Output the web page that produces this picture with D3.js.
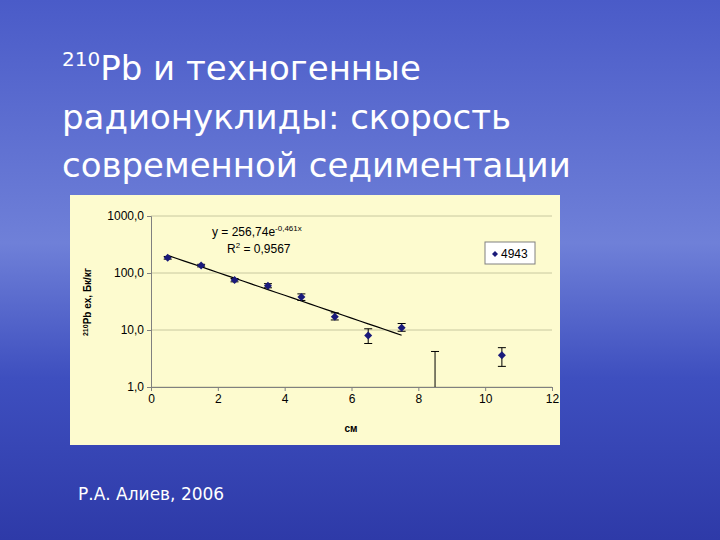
<!DOCTYPE html>
<html><head><meta charset="utf-8">
<script src="https://cdn.jsdelivr.net/npm/d3@7"></script>
<style>body{margin:0}svg{display:block}</style></head>
<body><svg id="c" width="720" height="540"></svg>
<script>
const depth=[0.5,1.5,2.5,3.5,4.5,5.5,6.5,7.5,10.5];
const activity=[185,135,75,60,38,17,8,11,3.6];
const errLow=[175,128,70,55,33,15,5.8,9.5,2.3];
const errHigh=[195,142,80,65,43,20,10.5,13,4.9];
// point at 8.5 cm is below the axis, only its upper whisker shows
const lostX=8.5, lostHigh=4.2;
const yTicks=[1,10,100,1000];
const xTicks=[0,2,4,6,8,10,12];
const fitA=256.74, fitB=-0.461;

const svg=d3.select("#c");
const defs=svg.append("defs");
const g=defs.append("linearGradient").attr("id","bg").attr("x1",0).attr("y1",0).attr("x2",0).attr("y2",1);
g.append("stop").attr("offset","0").attr("stop-color","#4a5bc8");
g.append("stop").attr("offset","0.45").attr("stop-color","#6f80d8");
g.append("stop").attr("offset","0.7").attr("stop-color","#3e4fbf");
g.append("stop").attr("offset","1").attr("stop-color","#2e3aa8");
svg.append("rect").attr("width",720).attr("height",540).attr("fill","url(#bg)");

const title=svg.append("text").attr("fill","#fff").attr("font-family","DejaVu Sans").attr("font-size",34);
const l1=title.append("tspan").attr("x",62).attr("y",80);
l1.append("tspan").attr("font-size",20).attr("dy",-14).text("210");
l1.append("tspan").attr("dy",14).text("Pb и техногенные");
title.append("tspan").attr("x",62).attr("y",129).text("радионуклиды: скорость");
title.append("tspan").attr("x",62).attr("y",177).text("современной седиментации");

svg.append("text").attr("x",78).attr("y",500).attr("fill","#fff").attr("font-family","DejaVu Sans").attr("font-size",17).text("Р.А. Алиев, 2006");

svg.append("rect").attr("x",70).attr("y",195).attr("width",490).attr("height",250).attr("fill","#fdfbcf");

const x=d3.scaleLinear().domain([0,12]).range([151,552]);
const y=d3.scaleLog().domain([1,1000]).range([387,216]);
const font="Arial, Liberation Sans";

svg.append("g").selectAll("line").data(yTicks).join("line")
  .attr("x1",151).attr("x2",552).attr("y1",d=>y(d)).attr("y2",d=>y(d)).attr("stroke","#c8c8a0");

svg.append("g").attr("transform","translate(151,0)")
  .call(d3.axisLeft(y).tickValues(yTicks).tickFormat(d=>d3.format(".1f")(d).replace(".",",")).tickSize(4))
  .call(a=>a.selectAll("text").attr("font-size",12).attr("font-family",font).attr("fill","#000"))
  .call(a=>a.selectAll("line,path").attr("stroke","#808080"));
svg.append("g").attr("transform","translate(0,387)")
  .call(d3.axisBottom(x).tickValues(xTicks).tickSize(4).tickSizeOuter(0))
  .call(a=>a.selectAll("text").attr("font-size",12).attr("font-family",font).attr("fill","#000"))
  .call(a=>a.selectAll("line,path").attr("stroke","#808080"));

svg.append("text").attr("x",351).attr("y",432).attr("text-anchor","middle").attr("font-family",font).attr("font-weight","bold").attr("font-size",10).text("см");
const yl=svg.append("text").attr("transform","translate(91,302) rotate(-90)").attr("text-anchor","middle").attr("font-family",font).attr("font-weight","bold").attr("font-size",10);
yl.append("tspan").attr("font-size",7).attr("dy",-3).text("210");
yl.append("tspan").attr("dy",3).text("Pb ex, Бк/кг");

// trend line
const fx=d3.range(0.5,7.51,0.25);
svg.append("path").datum(fx).attr("fill","none").attr("stroke","#000").attr("stroke-width",1.2)
  .attr("d",d3.line().x(d=>x(d)).y(d=>y(fitA*Math.exp(fitB*d))));

const pts=depth.map((d,i)=>({d,v:activity[i],lo:errLow[i],hi:errHigh[i]}));
const eb=svg.append("g").attr("stroke","#000").attr("stroke-width",1);
pts.forEach(p=>{
  eb.append("line").attr("x1",x(p.d)).attr("x2",x(p.d)).attr("y1",y(p.lo)).attr("y2",y(p.hi));
  [p.lo,p.hi].forEach(v=>eb.append("line").attr("x1",x(p.d)-4).attr("x2",x(p.d)+4).attr("y1",y(v)).attr("y2",y(v)));
});
eb.append("line").attr("x1",x(lostX)).attr("x2",x(lostX)).attr("y1",387).attr("y2",y(lostHigh));
eb.append("line").attr("x1",x(lostX)-4).attr("x2",x(lostX)+4).attr("y1",y(lostHigh)).attr("y2",y(lostHigh));

const dia="M0,-4L4,0L0,4L-4,0Z";
svg.append("g").selectAll("path").data(pts).join("path")
  .attr("d",dia).attr("fill","#1a1a7a")
  .attr("transform",p=>`translate(${x(p.d)},${y(p.v)})`);

const eq=svg.append("text").attr("x",212).attr("y",236).attr("font-family",font).attr("font-size",12);
eq.append("tspan").text("y = 256,74e");
eq.append("tspan").attr("font-size",8).attr("dy",-5).text("-0,461x");
const r2=svg.append("text").attr("x",227).attr("y",253).attr("font-family",font).attr("font-size",12);
r2.append("tspan").text("R");
r2.append("tspan").attr("font-size",8).attr("dy",-5).text("2");
r2.append("tspan").attr("dy",5).text(" = 0,9567");

svg.append("rect").attr("x",485).attr("y",242).attr("width",50).attr("height",22).attr("fill","#fff").attr("stroke","#808080");
svg.append("path").attr("d","M0,-3L3,0L0,3L-3,0Z").attr("fill","#1a1a7a").attr("transform","translate(495,254)");
svg.append("text").attr("x",501).attr("y",258).attr("font-family",font).attr("font-size",12).text("4943");
</script></body></html>
